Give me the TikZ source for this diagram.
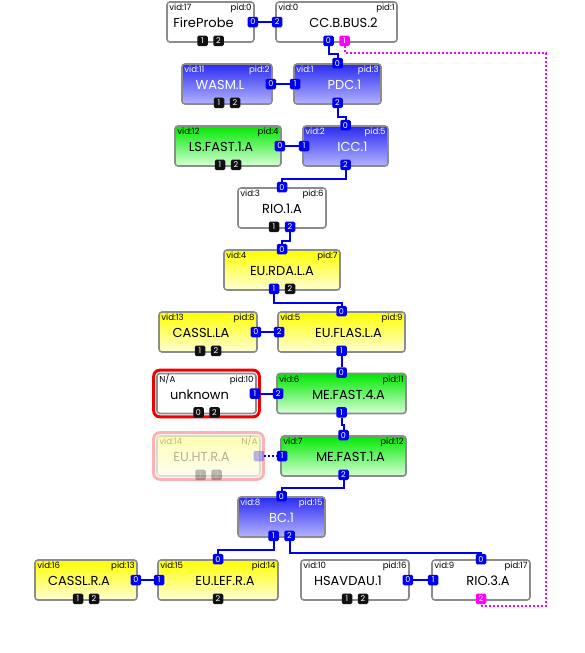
\documentclass[tikz,border=0pt]{standalone}
\usepackage{fontspec}
\setmainfont{Poppins}
\usetikzlibrary{fit}
\definecolor{boxrim}{HTML}{8C8C8C}
\definecolor{linkblue}{HTML}{0000F0}
\definecolor{pinink}{HTML}{111111}
\definecolor{busmagenta}{HTML}{FF00FF}
\definecolor{bluetop}{HTML}{2A2AF2}
\definecolor{bluebot}{HTML}{B4B4FF}
\definecolor{greentop}{HTML}{00E800}
\definecolor{greenbot}{HTML}{D8FFD8}
\definecolor{yellowtop}{HTML}{FFFF00}
\definecolor{yellowbot}{HTML}{FFFFD6}
\definecolor{alertred}{HTML}{F00000}
\tikzset{
  devBox/.style={draw=boxrim, line width=1.6pt, rounded corners=3pt, minimum height=40pt, inner sep=0pt},
  whiteBox/.style={devBox, fill=white},
  blueBox/.style={devBox, top color=bluetop, bottom color=bluebot},
  greenBox/.style={devBox, top color=greentop, bottom color=greenbot},
  yellowBox/.style={devBox, top color=yellowtop, bottom color=yellowbot},
  whiteInk/.style={text=black},
  blueInk/.style={text=white},
  greenInk/.style={text=black},
  yellowInk/.style={text=black},
  nameText/.style={font=\fontsize{13}{13}\selectfont, inner sep=0pt, anchor=base},
  idText/.style={font=\fontsize{8.6}{8.6}\selectfont, inner sep=0pt},
  portBox/.style={rectangle, rounded corners=1.5pt, minimum size=10.5pt, inner sep=0pt, text=white, font=\fontsize{8}{8}\selectfont},
  pinBlue/.style={portBox, fill=linkblue},
  pinBlack/.style={portBox, fill=pinink},
  pinPink/.style={portBox, fill=busmagenta},
  eastPin/.style={xshift=-2pt},
  westPin/.style={xshift=2pt},
  lowL/.style={xshift=-8pt, yshift=2pt},
  lowR/.style={xshift=8pt, yshift=2pt},
  lowC/.style={yshift=2pt},
  link/.style={draw=linkblue, line width=2pt},
  ghostLink/.style={link, dash pattern=on 2pt off 2pt},
  busLink/.style={draw=busmagenta, line width=2pt, dash pattern=on 2pt off 2pt},
  alertRing/.style={draw=alertred, line width=3pt, rounded corners=6pt, inner sep=2.5pt}
}
% box: id, centre, width, colour, vid, pid, name, name shift
\newcommand{\devbox}[8]{%
  \node[#4Box, minimum width=#3pt] (#1) at #2 {};
  \node[idText, #4Ink, anchor=base west, xshift=3pt, yshift=-9.5pt] (#1-vid) at (#1.north west) {#5};
  \node[idText, #4Ink, anchor=base east, xshift=-3pt, yshift=-9.5pt] (#1-pid) at (#1.north east) {#6};
  \node[nameText, #4Ink, xshift=#8pt, yshift=-26.5pt] (#1-name) at (#1.north) {#7};
}

\begin{document}
\begin{tikzpicture}[x=1pt,y=-1pt]
  \useasboundingbox[fill=white] (0,0) rectangle (584,653);

  \devbox{fp}{(210.5,22)}{87}{white}{vid:17}{pid:0}{FireProbe}{-7}
  \devbox{cc}{(336.5,22)}{121}{white}{vid:0}{pid:1}{CC.B.BUS.2}{7}
  \devbox{wasm}{(227,84)}{90}{blue}{vid:11}{pid:2}{WASM.L}{-7}
  \devbox{pdc}{(337.5,84)}{87}{blue}{vid:1}{pid:3}{PDC.1}{7}
  \devbox{ls}{(228,146)}{106}{green}{vid:12}{pid:4}{LS.FAST.1.A}{-7}
  \devbox{icc}{(345.5,146)}{85}{blue}{vid:2}{pid:5}{ICC.1}{7}
  \devbox{rio1}{(282,208)}{88}{white}{vid:3}{pid:6}{RIO.1.A}{0}
  \devbox{rda}{(282,270)}{116}{yellow}{vid:4}{pid:7}{EU.RDA.L.A}{0}
  \devbox{cassl}{(208,332)}{98}{yellow}{vid:13}{pid:8}{CASSL.LA}{-7}
  \devbox{flas}{(341.5,332)}{127}{yellow}{vid:5}{pid:9}{EU.FLAS.L.A}{7}
  \devbox{unk}{(206.5,393.5)}{99}{white}{N/A}{pid:10}{unknown}{-7}
  \node[alertRing, fit=(unk)] (unk-ring) {};
  \devbox{me4}{(341.5,393.5)}{129}{green}{vid:6}{pid:11}{ME.FAST.4.A}{7}
  \devbox{me1}{(343.5,456)}{125}{green}{vid:7}{pid:12}{ME.FAST.1.A}{7}
  \devbox{bc}{(281.5,517)}{87}{blue}{vid:8}{pid:15}{BC.1}{0}
  \devbox{cassr}{(86,580)}{102}{yellow}{vid:16}{pid:13}{CASSL.R.A}{-7}
  \devbox{lef}{(218,580)}{120}{yellow}{vid:15}{pid:14}{EU.LEF.R.A}{7}
  \devbox{hsav}{(355,580)}{108}{white}{vid:10}{pid:16}{HSAVDAU.1}{-7}
  \devbox{rio3}{(481,580)}{98}{white}{vid:9}{pid:17}{RIO.3.A}{7}

  % offline device
  \begin{scope}[opacity=0.3]
    \devbox{eht}{(208.5,456)}{103}{yellow}{vid:14}{N/A}{EU.HT.R.A}{-7}
    \node[alertRing, fit=(eht)] (eht-ring) {};
    \node[pinBlue, eastPin] (eht-p0) at (eht.east) {0};
    \node[pinBlack, lowL] (eht-p1) at (eht.south) {1};
    \node[pinBlack, lowR] (eht-p2) at (eht.south) {2};
  \end{scope}

  % ports
  \node[pinBlue, eastPin] (fp-p0) at (fp.east) {0};
  \node[pinBlack, lowL] (fp-p1) at (fp.south) {1};
  \node[pinBlack, lowR] (fp-p2) at (fp.south) {2};
  \node[pinBlue, westPin] (cc-p2) at (cc.west) {2};
  \node[pinBlue, lowL] (cc-p0) at (cc.south) {0};
  \node[pinPink, lowR] (cc-p1) at (cc.south) {1};
  \node[pinBlue, eastPin] (wasm-p0) at (wasm.east) {0};
  \node[pinBlack, lowL] (wasm-p1) at (wasm.south) {1};
  \node[pinBlack, lowR] (wasm-p2) at (wasm.south) {2};
  \node[pinBlue] (pdc-p0) at (pdc.north) {0};
  \node[pinBlue, westPin] (pdc-p1) at (pdc.west) {1};
  \node[pinBlue, lowC] (pdc-p2) at (pdc.south) {2};
  \node[pinBlue, eastPin] (ls-p0) at (ls.east) {0};
  \node[pinBlack, lowL] (ls-p1) at (ls.south) {1};
  \node[pinBlack, lowR] (ls-p2) at (ls.south) {2};
  \node[pinBlue] (icc-p0) at (icc.north) {0};
  \node[pinBlue, westPin] (icc-p1) at (icc.west) {1};
  \node[pinBlue, lowC] (icc-p2) at (icc.south) {2};
  \node[pinBlue] (rio1-p0) at (rio1.north) {0};
  \node[pinBlack, lowL] (rio1-p1) at (rio1.south) {1};
  \node[pinBlue, lowR] (rio1-p2) at (rio1.south) {2};
  \node[pinBlue] (rda-p0) at (rda.north) {0};
  \node[pinBlue, lowL] (rda-p1) at (rda.south) {1};
  \node[pinBlack, lowR] (rda-p2) at (rda.south) {2};
  \node[pinBlue, eastPin] (cassl-p0) at (cassl.east) {0};
  \node[pinBlack, lowL] (cassl-p1) at (cassl.south) {1};
  \node[pinBlack, lowR] (cassl-p2) at (cassl.south) {2};
  \node[pinBlue] (flas-p0) at (flas.north) {0};
  \node[pinBlue, westPin] (flas-p2) at (flas.west) {2};
  \node[pinBlue, lowC] (flas-p1) at (flas.south) {1};
  \node[pinBlue, eastPin] (unk-p1) at (unk.east) {1};
  \node[pinBlack, lowL] (unk-p0) at (unk.south) {0};
  \node[pinBlack, lowR] (unk-p2) at (unk.south) {2};
  \node[pinBlue] (me4-p0) at (me4.north) {0};
  \node[pinBlue, westPin] (me4-p2) at (me4.west) {2};
  \node[pinBlue, lowC] (me4-p1) at (me4.south) {1};
  \node[pinBlue] (me1-p0) at (me1.north) {0};
  \node[pinBlue, westPin] (me1-p1) at (me1.west) {1};
  \node[pinBlue, lowC] (me1-p2) at (me1.south) {2};
  \node[pinBlue] (bc-p0) at (bc.north) {0};
  \node[pinBlue, lowL] (bc-p1) at (bc.south) {1};
  \node[pinBlue, lowR] (bc-p2) at (bc.south) {2};
  \node[pinBlue, eastPin] (cassr-p0) at (cassr.east) {0};
  \node[pinBlack, lowL] (cassr-p1) at (cassr.south) {1};
  \node[pinBlack, lowR] (cassr-p2) at (cassr.south) {2};
  \node[pinBlue] (lef-p0) at (lef.north) {0};
  \node[pinBlue, westPin] (lef-p1) at (lef.west) {1};
  \node[pinBlack, lowC] (lef-p2) at (lef.south) {2};
  \node[pinBlue, eastPin] (hsav-p0) at (hsav.east) {0};
  \node[pinBlack, lowL] (hsav-p1) at (hsav.south) {1};
  \node[pinBlack, lowR] (hsav-p2) at (hsav.south) {2};
  \node[pinBlue] (rio3-p0) at (rio3.north) {0};
  \node[pinBlue, westPin] (rio3-p1) at (rio3.west) {1};
  \node[pinPink, lowC] (rio3-p2) at (rio3.south) {2};

  % links
  \draw[link] (fp-p0) -- (cc-p2);
  \draw[link] (cc-p0.south) -- ++(0,8) -| (pdc-p0.north);
  \draw[link] (wasm-p0) -- (pdc-p1);
  \draw[link] (pdc-p2.south) -- ++(0,9) -| (icc-p0.north);
  \draw[link] (ls-p0) -- (icc-p1);
  \draw[link] (icc-p2.south) -- ++(0,9) -| (rio1-p0.north);
  \draw[link] (rio1-p2.south) -- ++(0,9) -| (rda-p0.north);
  \draw[link] (rda-p1.south) -- ++(0,9) -| (flas-p0.north);
  \draw[link] (cassl-p0) -- (flas-p2);
  \draw[link] (flas-p1.south) -- ++(0,7) -| (me4-p0.north);
  \draw[link] (unk-p1) -- (me4-p2);
  \draw[link] (me4-p1.south) -- ++(0,7) -| (me1-p0.north);
  \draw[ghostLink] (eht-p0) -- (me1-p1);
  \draw[link] (me1-p2.south) -- ++(0,8) -| (bc-p0.north);
  \draw[link] (bc-p1.south) -- ++(0,9) -| (lef-p0.north);
  \draw[link] (bc-p2.south) -- ++(0,12) -| (rio3-p0.north);
  \draw[link] (cassr-p0) -- (lef-p1);
  \draw[link] (hsav-p0) -- (rio3-p1);
  \coordinate (busCorner) at (546,606);
  \draw[busLink] (cc-p1.south) -- ++(0,7) -| (busCorner) -| (rio3-p2.south);
\end{tikzpicture}
\end{document}
